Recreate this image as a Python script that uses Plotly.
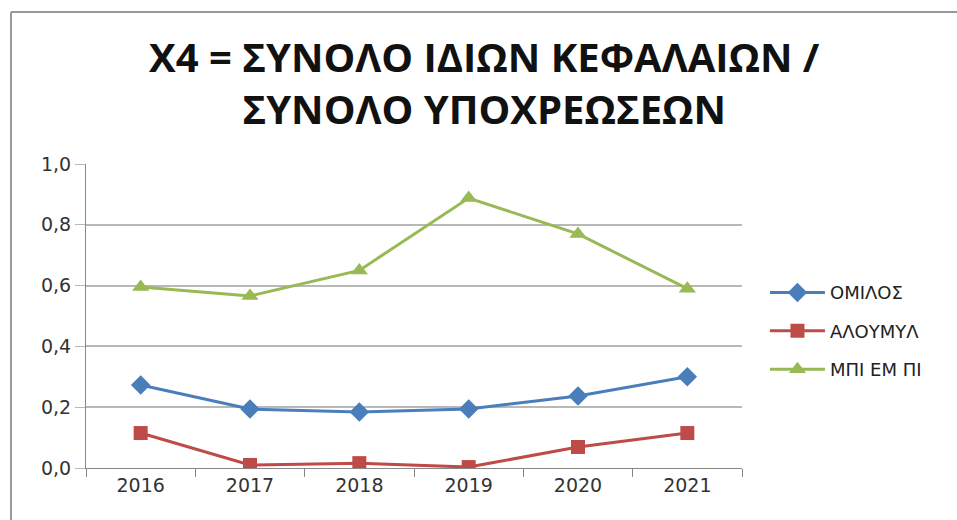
import plotly.graph_objects as go

years = ["2016", "2017", "2018", "2019", "2020", "2021"]
omilos = [0.273, 0.194, 0.184, 0.194, 0.237, 0.300]
aloumyl = [0.115, 0.010, 0.016, 0.003, 0.069, 0.115]
mpiempi = [0.595, 0.566, 0.650, 0.888, 0.770, 0.590]
series_names = ["ΟΜΙΛΟΣ", "ΑΛΟΥΜΥΛ", "ΜΠΙ ΕΜ ΠΙ"]
title_text = "X4 = ΣΥΝΟΛΟ ΙΔΙΩΝ ΚΕΦΑΛΑΙΩΝ /<br>ΣΥΝΟΛΟ ΥΠΟΧΡΕΩΣΕΩΝ"

fig = go.Figure()
fig.add_trace(go.Scatter(x=years, y=omilos, name=series_names[0], mode="lines+markers",
                         legendgroup="a",
                         line=dict(color="#4a7ebb", width=3),
                         marker=dict(symbol="diamond", size=15, color="#4a7ebb")))
fig.add_trace(go.Scatter(x=years, y=aloumyl, name=series_names[1], mode="lines+markers",
                         legendgroup="b",
                         line=dict(color="#be4b48", width=3),
                         marker=dict(symbol="square", size=14, color="#be4b48")))
fig.add_trace(go.Scatter(x=years, y=mpiempi, name=series_names[2], mode="lines+markers",
                         legendgroup="c",
                         line=dict(color="#98b954", width=3),
                         marker=dict(symbol="triangle-up", size=15, color="#98b954")))

L, R, T, B = 86, 215, 164, 52
W, H = 957, 520
pw, ph = W - L - R, H - T - B

fig.update_layout(
    width=W, height=H,
    margin=dict(l=L, r=R, t=T, b=B),
    paper_bgcolor="white", plot_bgcolor="white",
    separators=",.",
    font=dict(family="DejaVu Sans, sans-serif", color="#333333"),
    title=dict(text=title_text, x=0.506, xanchor="center", y=0.862, yanchor="middle",
               font=dict(family="Open Sans, sans-serif", size=40, color="#111111",
                         weight="bold")),
    showlegend=True,
    legend=dict(x=1.035, y=0.45, xanchor="left", yanchor="middle",
                font=dict(size=18, color="#222222"), tracegroupgap=12,
                itemwidth=55, bgcolor="rgba(0,0,0,0)"),
    xaxis=dict(type="category", range=[-0.5, 5.5], tickson="boundaries",
               ticks="outside", ticklen=8, tickcolor="#888888",
               showline=True, linecolor="#888888", linewidth=1,
               showgrid=False, tickfont=dict(size=19, color="#333333")),
    yaxis=dict(range=[0, 1.0], dtick=0.2, tickformat=".1f",
               showgrid=True, gridcolor="#b8b8b8", gridwidth=2,
               ticks="outside", ticklen=10, tickcolor="#b8b8b8",
               showline=True, linecolor="#888888", linewidth=1,
               zeroline=False, tickfont=dict(size=19, color="#333333")),
)

# outer chart frame (top and left edges)
fig.add_shape(type="line", xref="paper", yref="paper",
              x0=(11 - L) / pw, x1=(W + 5 - L) / pw,
              y0=(H - B - 12) / ph, y1=(H - B - 12) / ph,
              line=dict(color="#999999", width=2))
fig.add_shape(type="line", xref="paper", yref="paper",
              x0=(11 - L) / pw, x1=(11 - L) / pw,
              y0=(H - B - 12) / ph, y1=-(B + 5) / ph,
              line=dict(color="#999999", width=2))

fig.write_html("out.html")
